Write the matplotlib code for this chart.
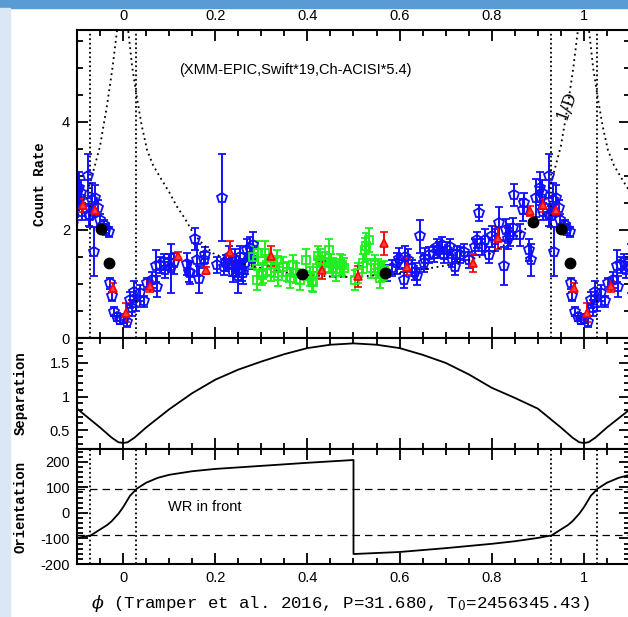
import numpy as np
import matplotlib
matplotlib.use('Agg')
import matplotlib.pyplot as plt
from matplotlib.patches import Rectangle
from matplotlib.ticker import MultipleLocator, FuncFormatter

plt.rcParams['axes.unicode_minus'] = False
plt.rcParams['font.family'] = ['Liberation Sans', 'DejaVu Sans']
plt.rcParams['mathtext.fontset'] = 'dejavuserif'

# ---- count rate data, folded phase in [0, 1) ----
blue_phase = [0.001, 0.009, 0.016, 0.019, 0.023, 0.029, 0.037, 0.045, 0.052, 0.063,
              0.072, 0.074, 0.081, 0.088, 0.091, 0.099, 0.103, 0.110, 0.139, 0.142,
              0.146, 0.157, 0.160, 0.164, 0.176, 0.178, 0.204, 0.215, 0.218, 0.224,
              0.229, 0.236, 0.239, 0.243, 0.246, 0.250, 0.254, 0.257, 0.261, 0.265,
              0.268, 0.275, 0.279, 0.282, 0.573, 0.584, 0.594, 0.598, 0.609, 0.612,
              0.619, 0.627, 0.634, 0.638, 0.645, 0.652, 0.656, 0.663, 0.674, 0.681,
              0.685, 0.692, 0.696, 0.703, 0.710, 0.714, 0.721, 0.725, 0.732, 0.739,
              0.750, 0.764, 0.768, 0.773, 0.779, 0.786, 0.793, 0.801, 0.808, 0.815,
              0.827, 0.831, 0.835, 0.839, 0.846, 0.848, 0.861, 0.868, 0.871, 0.880,
              0.886, 0.895, 0.904, 0.906, 0.908, 0.911, 0.924, 0.925, 0.929, 0.933,
              0.936, 0.939, 0.945, 0.949, 0.958, 0.964, 0.969, 0.971, 0.975, 0.981,
              0.987, 0.994]
blue_rate = [0.36, 0.30, 0.71, 0.55, 0.86, 0.65, 0.83, 0.68, 1.01, 1.07,
             1.33, 0.95, 1.35, 1.41, 1.26, 1.41, 1.29, 1.38, 1.37, 1.23,
             1.20, 1.83, 1.44, 1.09, 1.44, 1.53, 1.35, 2.60, 1.32, 1.39,
             1.50, 1.35, 1.23, 1.44, 1.32, 1.14, 1.50, 1.26, 1.20, 1.38,
             1.63, 1.66, 1.47, 1.72, 1.20, 1.29, 1.38, 1.47, 1.07, 1.50,
             1.44, 1.29, 1.23, 1.14, 1.88, 1.38, 1.47, 1.53, 1.56, 1.69,
             1.63, 1.72, 1.53, 1.63, 1.69, 1.47, 1.32, 1.56, 1.53, 1.59,
             1.44, 1.69, 1.81, 2.31, 1.69, 1.81, 1.53, 1.88, 1.81, 2.12,
             1.33, 2.00, 1.84, 1.91, 2.03, 2.65, 1.91, 2.37, 2.49, 1.63,
             1.44, 2.59, 2.77, 2.59, 2.68, 2.34, 3.00, 2.28, 2.25, 2.56,
             1.60, 2.59, 2.40, 2.19, 2.09, 2.01, 1.96, 1.01, 0.77, 0.49,
             0.39, 0.33]
blue_err = [0.08, 0.10, 0.15, 0.15, 0.20, 0.15, 0.15, 0.10, 0.10, 0.15,
            0.30, 0.20, 0.15, 0.15, 0.15, 0.15, 0.45, 0.20, 0.20, 0.20,
            0.20, 0.20, 0.30, 0.25, 0.15, 0.15, 0.15, 0.80, 0.15, 0.15,
            0.20, 0.20, 0.20, 0.20, 0.20, 0.30, 0.20, 0.20, 0.20, 0.20,
            0.20, 0.20, 0.20, 0.25, 0.15, 0.15, 0.20, 0.20, 0.15, 0.20,
            0.20, 0.15, 0.15, 0.15, 0.30, 0.15, 0.20, 0.15, 0.15, 0.15,
            0.15, 0.15, 0.15, 0.15, 0.15, 0.15, 0.15, 0.15, 0.15, 0.15,
            0.15, 0.15, 0.15, 0.15, 0.15, 0.20, 0.15, 0.20, 0.20, 0.30,
            0.35, 0.20, 0.20, 0.20, 0.20, 0.20, 0.20, 0.20, 0.20, 0.20,
            0.30, 0.35, 0.30, 0.20, 0.25, 0.15, 0.40, 0.20, 0.20, 0.30,
            0.45, 0.25, 0.15, 0.10, 0.10, 0.10, 0.10, 0.10, 0.08, 0.08,
            0.08, 0.08]

green_phase = [0.283, 0.290, 0.293, 0.301, 0.304, 0.307, 0.312, 0.322, 0.330, 0.333,
               0.337, 0.347, 0.355, 0.362, 0.369, 0.376, 0.384, 0.398, 0.405, 0.409,
               0.413, 0.420, 0.424, 0.428, 0.438, 0.447, 0.452, 0.456, 0.463, 0.470,
               0.476, 0.480, 0.503, 0.510, 0.521, 0.525, 0.528, 0.533, 0.539, 0.547,
               0.554, 0.558, 0.561, 0.566]
green_rate = [1.50, 1.07, 1.57, 1.17, 1.20, 1.57, 1.35, 1.23, 1.30, 1.44,
              1.14, 1.32, 1.23, 1.11, 1.35, 1.20, 1.07, 1.44, 1.14, 1.05,
              1.04, 1.29, 1.51, 1.45, 1.41, 1.62, 1.38, 1.30, 1.23, 1.38,
              1.35, 1.30, 1.07, 1.20, 1.38, 1.63, 1.70, 1.81, 1.29, 1.35,
              1.29, 1.11, 1.23, 1.25]
green_err = [0.20, 0.18, 0.22, 0.18, 0.18, 0.22, 0.18, 0.18, 0.18, 0.18,
             0.18, 0.18, 0.18, 0.18, 0.18, 0.18, 0.18, 0.20, 0.18, 0.18,
             0.18, 0.18, 0.20, 0.20, 0.18, 0.22, 0.18, 0.18, 0.18, 0.18,
             0.18, 0.18, 0.18, 0.18, 0.18, 0.22, 0.25, 0.22, 0.18, 0.18,
             0.18, 0.18, 0.18, 0.18]

red_phase = [0.007, 0.058, 0.119, 0.179, 0.232, 0.321, 0.432, 0.509, 0.566, 0.616,
             0.759, 0.813, 0.884, 0.912, 0.939, 0.979]
red_rate = [0.47, 0.96, 1.52, 1.25, 1.60, 1.52, 1.26, 1.14, 1.75, 1.32,
            1.39, 1.85, 2.35, 2.46, 2.37, 0.93]
red_err = [0.17, 0.10, 0.07, 0.06, 0.20, 0.18, 0.16, 0.19, 0.21, 0.16,
           0.17, 0.20, 0.10, 0.12, 0.10, 0.08]

black_phase = [0.389, 0.569, 0.889, 0.951, 0.969]
black_rate = [1.18, 1.21, 2.14, 2.02, 1.39]

# ---- model curves over one orbit ----
invd_phase = [0.0, 0.011, 0.02, 0.03, 0.04, 0.052, 0.065, 0.08, 0.10, 0.117,
              0.135, 0.152, 0.175, 0.195, 0.22, 0.24, 0.28, 0.33, 0.384, 0.45,
              0.50, 0.55, 0.60, 0.65, 0.70, 0.75, 0.80, 0.85, 0.889, 0.91,
              0.928, 0.95, 0.965, 0.977, 0.987, 1.0]
invd_val = [6.3, 5.7, 5.0, 4.45, 3.95, 3.48, 3.2, 2.98, 2.7, 2.43,
            2.2, 1.94, 1.72, 1.57, 1.48, 1.42, 1.33, 1.24, 1.17, 1.14,
            1.13, 1.16, 1.20, 1.27, 1.34, 1.44, 1.57, 1.85, 2.14, 2.45,
            2.85, 3.55, 4.3, 5.0, 5.7, 6.3]

sep_phase = [0.0, 0.01, 0.025, 0.05, 0.10, 0.15, 0.20, 0.25, 0.30, 0.35,
             0.40, 0.45, 0.50, 0.55, 0.60, 0.65, 0.70, 0.75, 0.80, 0.85,
             0.90, 0.95, 0.975, 0.99, 1.0]
sep_val = [0.31, 0.32, 0.39, 0.54, 0.81, 1.05, 1.25, 1.40, 1.52, 1.63,
           1.72, 1.77, 1.79, 1.77, 1.72, 1.62, 1.50, 1.33, 1.13, 0.98,
           0.82, 0.54, 0.39, 0.32, 0.31]

ori_phase = [0.0, 0.015, 0.03, 0.05, 0.075, 0.10, 0.15, 0.20, 0.30, 0.40,
             0.50, 0.50, 0.60, 0.70, 0.80, 0.85, 0.90, 0.93, 0.95, 0.965,
             0.975, 0.99, 1.0]
ori_val = [22, 67, 95, 118, 137, 149, 163, 172, 184, 196,
           207, -161, -153, -138, -121, -111, -98, -88, -65, -48,
           -33, -3, 22]

eclipse_phase = [-0.071, 0.029, 0.929, 1.029]
ori_levels = [95, -88]

x_major = [0, 0.2, 0.4, 0.6, 0.8, 1.0]


def fold(ph, vals):
    """repeat one orbit at phase-1, phase, phase+1"""
    ph = np.asarray(ph, float)
    vals = np.asarray(vals, float)
    return np.concatenate([ph - 1, ph, ph + 1]), np.tile(vals, 3)


def style_axis(ax):
    ax.set_xlim(-0.1, 1.1)
    ax.set_xticks(x_major)
    ax.xaxis.set_minor_locator(MultipleLocator(0.05))
    ax.xaxis.set_major_formatter(FuncFormatter(lambda v, _: f"{v:g}"))
    ax.yaxis.set_major_formatter(FuncFormatter(lambda v, _: f"{v:g}"))
    ax.tick_params(which='both', direction='in', top=True, right=True,
                   width=1.3, labelsize=10.5, pad=5)
    ax.tick_params(which='major', length=8)
    ax.tick_params(which='minor', length=4)
    for s in ax.spines.values():
        s.set_linewidth(1.5)


fig = plt.figure(figsize=(6.28, 6.17), dpi=100)

# slide decoration
fig.patches.append(Rectangle((0, 1 - 8 / 617), 1, 8 / 617, transform=fig.transFigure,
                             color='#5b9bd5', zorder=0))
fig.patches.append(Rectangle((0, 0), 10 / 628, 1 - 8 / 617, transform=fig.transFigure,
                             color='#dbe7f5', zorder=0))

W = 628.0
H = 617.0
left = 77 / W
width = (630 - 77) / W
ax1 = fig.add_axes([left, 1 - 338 / H, width, (338 - 30) / H])
ax2 = fig.add_axes([left, 1 - 449 / H, width, (449 - 338) / H])
ax3 = fig.add_axes([left, 1 - 564 / H, width, (564 - 449) / H])

# ---- top: count rate ----
style_axis(ax1)
ax1.set_ylim(0, 5.7)
ax1.set_yticks([0, 2, 4])
ax1.yaxis.set_minor_locator(MultipleLocator(0.5))
ax1.tick_params(labeltop=True, labelbottom=False)

ebkw = dict(linestyle='none', capsize=3, elinewidth=1.4, capthick=1.4)
px, py = fold(blue_phase, blue_rate)
_, pe = fold(blue_phase, blue_err)
ax1.errorbar(px, py, yerr=pe, marker='p', ms=7, mfc='none', mec='#1010ff', mew=1.3,
             color='#1010ff', **ebkw)
px, py = fold(green_phase, green_rate)
_, pe = fold(green_phase, green_err)
ax1.errorbar(px, py, yerr=pe, marker='s', ms=6, mfc='none', mec='#1fee1f', mew=1.3,
             color='#1fee1f', **ebkw)
px, py = fold(red_phase, red_rate)
_, pe = fold(red_phase, red_err)
ax1.errorbar(px, py, yerr=pe, marker='^', ms=6, mfc='#ff4040', mec='red', mew=1.2,
             color='red', **ebkw)

cx, cy = fold(invd_phase, invd_val)
ax1.plot(cx, cy, color='black', lw=1.3, linestyle=(0, (1, 2)))
px, py = fold(black_phase, black_rate)
ax1.plot(px, py, 'o', color='black', ms=7.5, zorder=5)

for ph in eclipse_phase:
    ax1.axvline(ph, color='black', lw=1.3, linestyle=(0, (1, 1.5)))

ax1.text(0.373, 4.96, "(XMM-EPIC,Swift*19,Ch-ACISI*5.4)", ha='center', va='center',
         fontsize=10.5)
ax1.text(0.962, 4.31, "1/D", ha='center', va='center', rotation=70,
         fontsize=12, family='DejaVu Serif')
ax1.set_ylabel("Count Rate", family='Liberation Mono', fontweight='bold', fontsize=10)
ax1.yaxis.set_label_coords(-0.054, 0.5)

# ---- middle: separation ----
style_axis(ax2)
ax2.set_ylim(0.22, 1.87)
ax2.set_yticks([0.5, 1.0, 1.5])
ax2.yaxis.set_minor_locator(MultipleLocator(0.1))
ax2.tick_params(labelbottom=False)
cx, cy = fold(sep_phase, sep_val)
ax2.plot(cx, cy, color='black', lw=1.3)
ax2.set_ylabel("Separation", family='Liberation Mono', fontweight='bold', fontsize=10)
ax2.yaxis.set_label_coords(-0.09, 0.5)

# ---- bottom: orientation ----
style_axis(ax3)
ax3.set_ylim(-200, 250)
ax3.set_yticks([-200, -100, 0, 100, 200])
ax3.yaxis.set_minor_locator(MultipleLocator(20))
cx, cy = fold(ori_phase, ori_val)
ax3.plot(cx, cy, color='black', lw=1.3)
for lv in ori_levels:
    ax3.axhline(lv, color='black', lw=0.9, linestyle=(0, (6, 4)))
for ph in eclipse_phase:
    ax3.axvline(ph, color='black', lw=1.3, linestyle=(0, (1, 1.5)))
ax3.text(0.097, 24, "WR in front", ha='left', va='center', fontsize=10.5)
ax3.set_ylabel("Orientation", family='Liberation Mono', fontweight='bold', fontsize=10)
ax3.yaxis.set_label_coords(-0.09, 0.5)

fig.text(340 / W, 1 - 604 / H, r"$\phi$ (Tramper et al. 2016, P=31.680, T$_0$=2456345.43)",
         ha='center', va='center', fontsize=12.5, family='Liberation Mono')

fig.savefig('out.png', dpi=100)
